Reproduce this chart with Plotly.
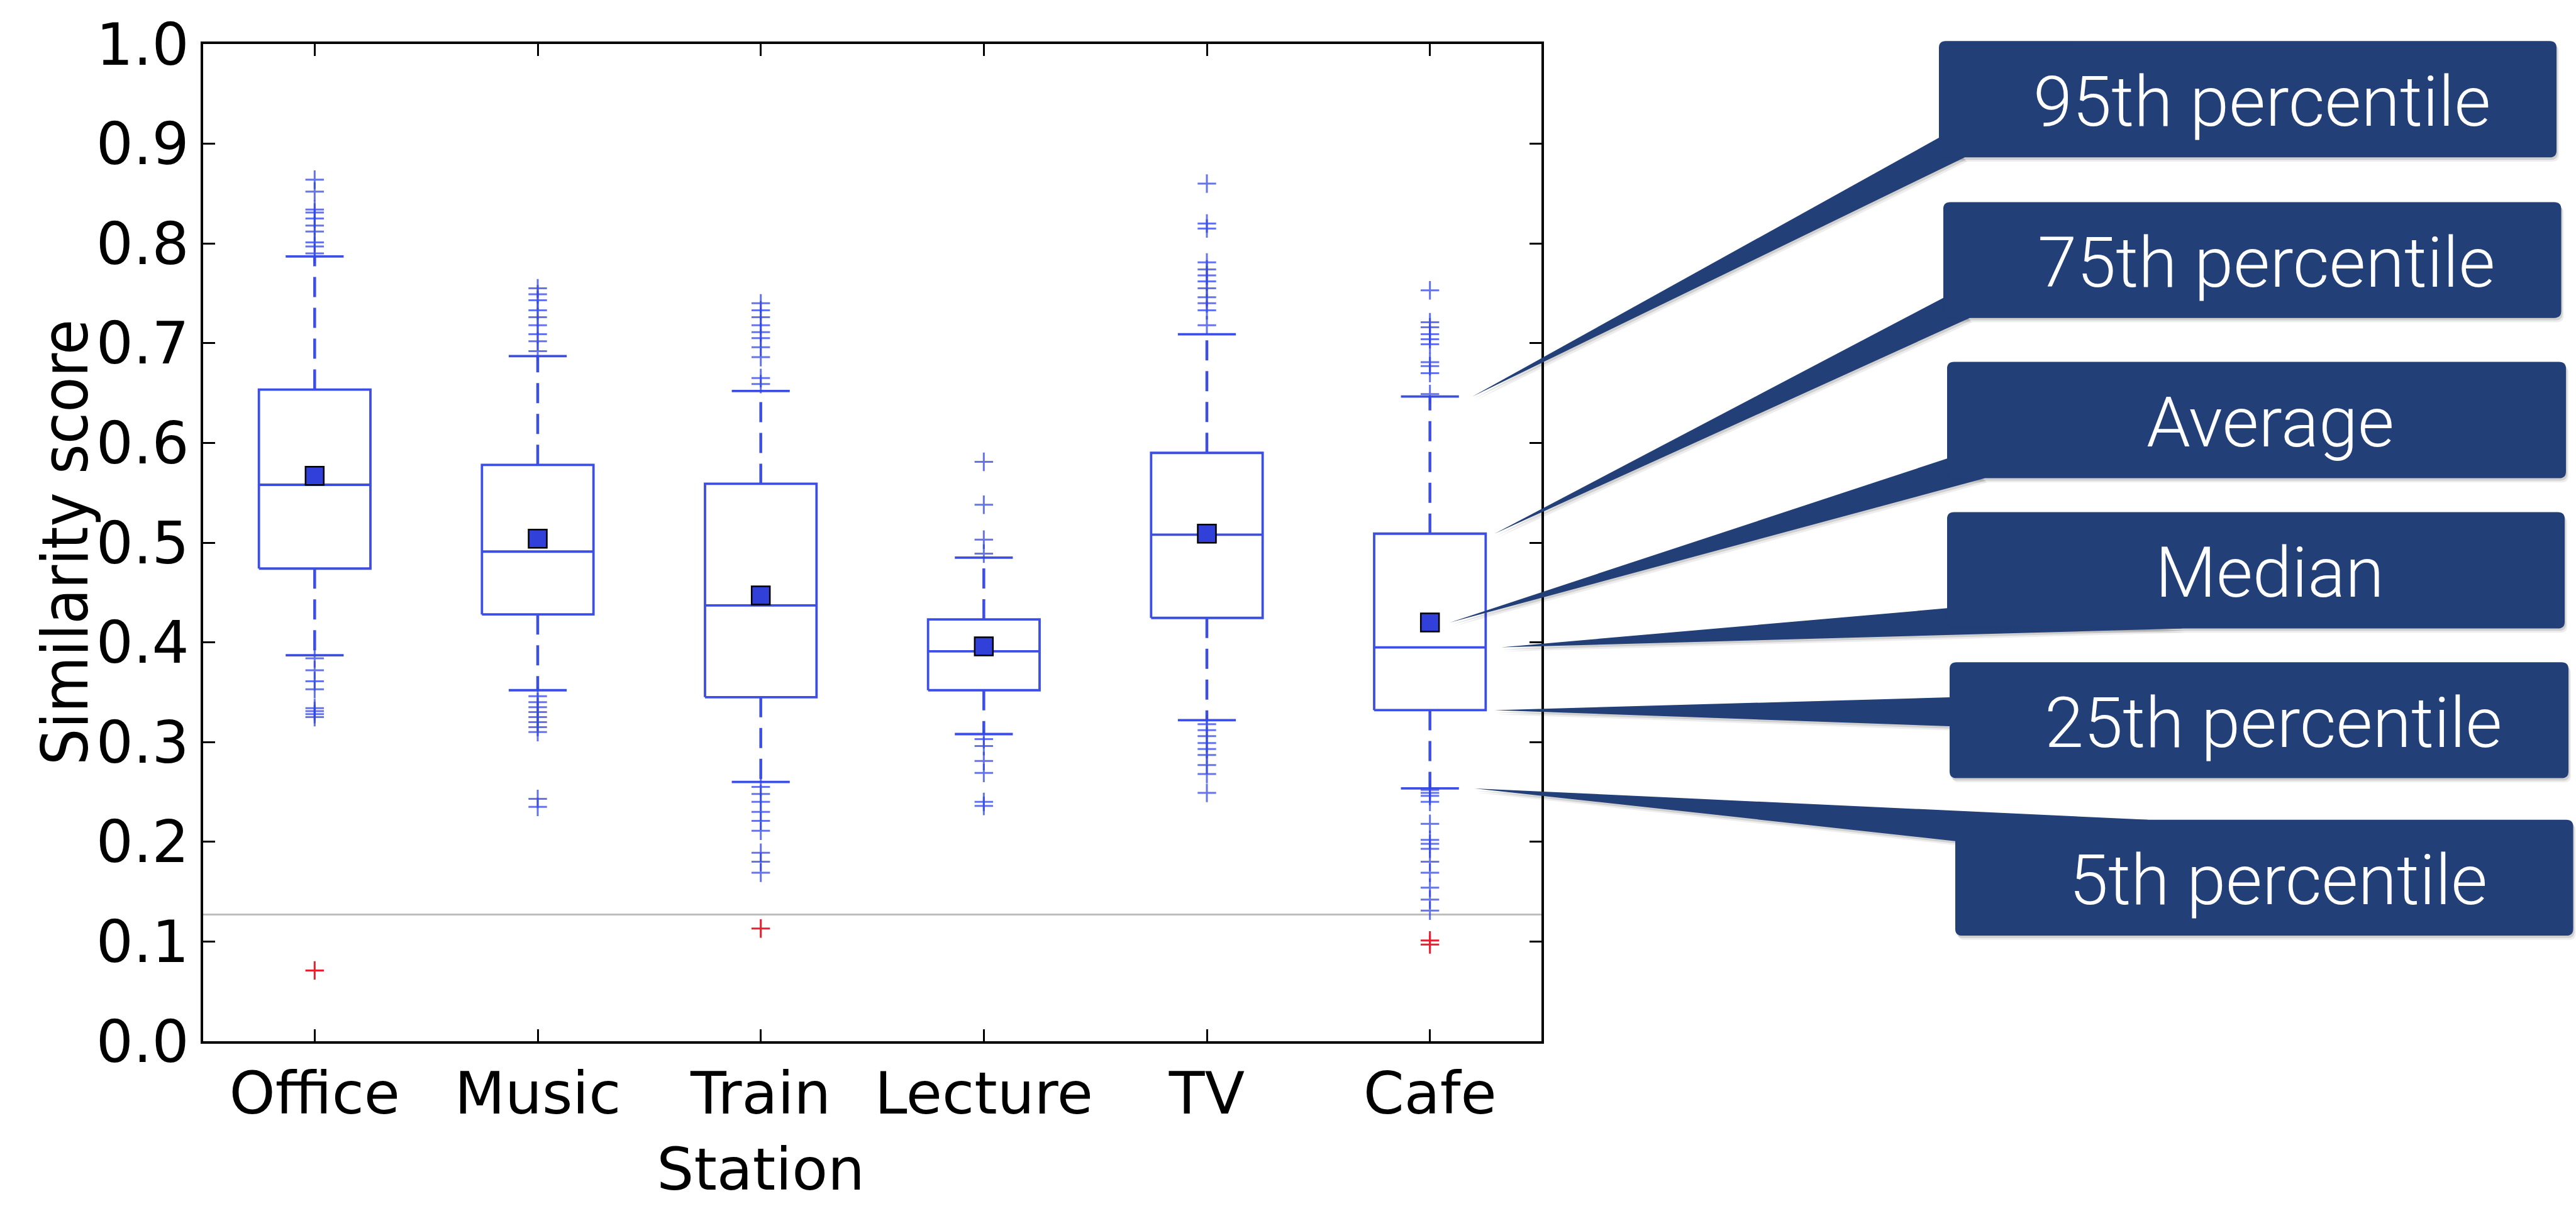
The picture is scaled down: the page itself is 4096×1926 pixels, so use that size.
import plotly.graph_objects as go

# ---- data -------------------------------------------------------------
categories = ["Office", "Music", "Train<br>Station", "Lecture", "TV", "Cafe"]

p05 = [0.387, 0.352, 0.260, 0.308, 0.322, 0.2535]
q1 = [0.474, 0.428, 0.345, 0.352, 0.4245, 0.332]
median = [0.558, 0.491, 0.437, 0.391, 0.508, 0.395]
q3 = [0.6535, 0.578, 0.559, 0.423, 0.590, 0.509]
p95 = [0.787, 0.687, 0.652, 0.485, 0.709, 0.6465]
mean = [0.567, 0.504, 0.447, 0.396, 0.509, 0.420]

fliers_office = [0.864, 0.852, 0.834, 0.831, 0.825, 0.818, 0.812, 0.801, 0.797, 0.790,
                 0.384, 0.372, 0.361, 0.353, 0.334, 0.331, 0.328, 0.325]
fliers_music = [0.755, 0.749, 0.743, 0.733, 0.726, 0.718, 0.709, 0.702, 0.692,
                0.346, 0.340, 0.335, 0.330, 0.325, 0.320, 0.315, 0.310, 0.243, 0.235]
fliers_train = [0.740, 0.733, 0.726, 0.718, 0.711, 0.705, 0.696, 0.686, 0.665, 0.659,
                0.255, 0.248, 0.240, 0.230, 0.221, 0.211, 0.189, 0.180, 0.169]
fliers_lecture = [0.581, 0.538, 0.503, 0.489,
                  0.303, 0.296, 0.281, 0.269, 0.240, 0.236]
fliers_tv = [0.860, 0.820, 0.815, 0.781, 0.774, 0.768, 0.762, 0.755, 0.746, 0.740, 0.733, 0.718,
             0.318, 0.312, 0.306, 0.299, 0.293, 0.287, 0.277, 0.268, 0.249]
fliers_cafe = [0.753, 0.721, 0.716, 0.709, 0.704, 0.699, 0.681, 0.677, 0.670, 0.649,
               0.252, 0.249, 0.246, 0.240, 0.218, 0.202, 0.198, 0.193, 0.180, 0.169,
               0.154, 0.142, 0.131]
fliers = [fliers_office, fliers_music, fliers_train, fliers_lecture, fliers_tv, fliers_cafe]

# points under the cut-off score
low_office = [0.071]
low_train = [0.113]
low_cafe = [0.101, 0.097]
low_points = [low_office, [], low_train, [], [], low_cafe]

threshold = 0.127

# callout labels, each pointing at one statistic of the last group
callout_labels = ["95th percentile", "75th percentile", "Average",
                  "Median", "25th percentile", "5th percentile"]

# ---- styling ----------------------------------------------------------
W, H = 4096, 1926
L, R, T, B = 323, 1645, 70, 207
PW, PH = W - L - R, H - T - B

BLUE = "#3d4fe3"
NAVY = "#223f78"
HALF = 0.25      # half box width (category units)
CAP = 0.13       # half cap width

positions = list(range(1, len(categories) + 1))

box_x, box_y, wh_x, wh_y = [], [], [], []
fx, fy, rx, ry = [], [], [], []
for i, x in enumerate(positions):
    # box outline + median
    box_x += [x - HALF, x + HALF, x + HALF, x - HALF, x - HALF, None,
              x - HALF, x + HALF, None]
    box_y += [q1[i], q1[i], q3[i], q3[i], q1[i], None,
              median[i], median[i], None]
    # caps
    box_x += [x - CAP, x + CAP, None, x - CAP, x + CAP, None]
    box_y += [p95[i], p95[i], None, p05[i], p05[i], None]
    # whiskers
    wh_x += [x, x, None, x, x, None]
    wh_y += [q3[i], p95[i], None, q1[i], p05[i], None]
    fx += [x] * len(fliers[i])
    fy += fliers[i]
    rx += [x] * len(low_points[i])
    ry += low_points[i]

fig = go.Figure()

fig.add_trace(go.Scatter(x=[0.5, 6.5], y=[threshold, threshold], mode="lines",
                         line=dict(color="#bdbdbd", width=3), hoverinfo="skip"))
fig.add_trace(go.Scatter(x=wh_x, y=wh_y, mode="lines",
                         line=dict(color=BLUE, width=4.5, dash="32px,17px")))
fig.add_trace(go.Scatter(x=box_x, y=box_y, mode="lines",
                         line=dict(color=BLUE, width=3.8)))
fig.add_trace(go.Scatter(x=fx, y=fy, mode="markers",
                         marker=dict(symbol="cross-thin", size=21,
                                     line=dict(color="rgba(50,70,228,0.75)", width=3))))
fig.add_trace(go.Scatter(x=rx, y=ry, mode="markers",
                         marker=dict(symbol="cross-thin", size=21,
                                     line=dict(color="#e8202f", width=3))))
fig.add_trace(go.Scatter(x=positions, y=mean, mode="markers",
                         marker=dict(symbol="square", size=29, color="#3040d8",
                                     line=dict(color="black", width=2.5))))

axis_common = dict(
    showline=True, linecolor="black", linewidth=3.5, mirror="ticks",
    ticks="inside", ticklen=19, tickwidth=2.5, tickcolor="black",
    showgrid=False, zeroline=False,
    tickfont=dict(family="DejaVu Sans", size=93, color="black"),
)
fig.update_xaxes(range=[0.5, 6.5], tickvals=positions, ticktext=categories, **axis_common)
fig.update_yaxes(range=[0, 1], tickvals=[i / 10 for i in range(11)], tickformat=".1f",
                 **axis_common)


# ---- callouts (geometry in canvas pixels) ------------------------------
def px(xc):
    return (xc - L) / PW


def py(yc):
    return (H - B - yc) / PH


def rrect_path(x0, y0, x1, y1, r, dx=0.0, dy=0.0):
    x0, x1, y0, y1 = x0 + dx, x1 + dx, y0 + dy, y1 + dy
    pts = [
        ("M", (x0 + r, y0)), ("L", (x1 - r, y0)), ("Q", (x1, y0), (x1, y0 + r)),
        ("L", (x1, y1 - r)), ("Q", (x1, y1), (x1 - r, y1)),
        ("L", (x0 + r, y1)), ("Q", (x0, y1), (x0, y1 - r)),
        ("L", (x0, y0 + r)), ("Q", (x0, y0), (x0 + r, y0)),
    ]
    out = []
    for cmd, *ps in pts:
        out.append(cmd + " ".join(f"{px(a):.5f},{py(b):.5f}" for a, b in ps))
    return " ".join(out) + " Z"


def wedge_path(tip, b1, b2, dx=0.0, dy=0.0):
    (tx, ty) = tip
    return (f"M{px(tx + dx):.5f},{py(ty + dy):.5f} "
            f"L{px(b1[0] + dx):.5f},{py(b1[1] + dy):.5f} "
            f"L{px(b2[0] + dx):.5f},{py(b2[1] + dy):.5f} Z")


last = len(categories) - 1
callout_values = [p95[last], q3[last], mean[last], median[last], q1[last], p05[last]]
tip_offsets = [0.19, 0.29, 0.09, 0.32, 0.29, 0.20]
callout_boxes = [
    (3083, 65, 4065, 257.5),
    (3090, 331.6, 4072.5, 523),
    (3096, 595.5, 4080, 788),
    (3096, 844, 4078, 1036.4),
    (3100, 1092.4, 4084, 1284),
    (3109, 1352.7, 4091.5, 1544.3),
]
wedge_bases = [
    ((3083, 225.0), (3124, 257.5)),
    ((3090, 489.7), (3132, 523.0)),
    ((3096, 755.4), (3156, 788.0)),
    ((3096, 1003.0), (3472, 1036.4)),
    ((3100, 1150.3), (3100, 1198.2)),
    ((3416, 1352.7), (3109, 1388.0)),
]

shapes = []
annotations = []
for k, label in enumerate(callout_labels):
    # tip position follows the data coordinate of the statistic
    tip_xd = positions[last] + tip_offsets[k]
    tip_x = L + (tip_xd - 0.5) / 6.0 * PW
    tip_y = H - B - callout_values[k] * PH
    x0, y0, x1, y1 = callout_boxes[k]
    b1, b2 = wedge_bases[k]
    for (dx, dy, a) in [(4, 7, 0.07), (2, 4, 0.12)]:
        shapes.append(dict(type="path", xref="paper", yref="paper", layer="above",
                           path=wedge_path((tip_x, tip_y), b1, b2, dx, dy),
                           fillcolor=f"rgba(0,0,0,{a})", line=dict(width=0)))
        shapes.append(dict(type="path", xref="paper", yref="paper", layer="above",
                           path=rrect_path(x0, y0, x1, y1, 11, dx, dy),
                           fillcolor=f"rgba(0,0,0,{a})", line=dict(width=0)))
    shapes.append(dict(type="path", xref="paper", yref="paper", layer="above",
                       path=wedge_path((tip_x, tip_y), b1, b2),
                       fillcolor=NAVY, line=dict(width=0)))
    shapes.append(dict(type="path", xref="paper", yref="paper", layer="above",
                       path=rrect_path(x0, y0, x1, y1, 11),
                       fillcolor=NAVY, line=dict(width=0)))
    annotations.append(dict(
        text=label, xref="paper", yref="paper",
        x=px((x0 + x1) / 2 + 22), y=py((y0 + y1) / 2 + 4),
        xanchor="center", yanchor="middle", showarrow=False,
        font=dict(family="Roboto", size=112, color="white", weight=300),
    ))

annotations.append(dict(
    text="Similarity score", xref="paper", yref="paper",
    x=px(103), y=0.5, xanchor="center", yanchor="middle", textangle=-90,
    showarrow=False,
    font=dict(family="DejaVu Sans Condensed, DejaVu Sans", size=102, color="black"),
))

fig.update_layout(
    width=W, height=H,
    margin=dict(l=L, r=R, t=T, b=B, pad=0),
    paper_bgcolor="white", plot_bgcolor="white",
    showlegend=False,
    shapes=shapes, annotations=annotations,
)

fig.write_html("out.html")
